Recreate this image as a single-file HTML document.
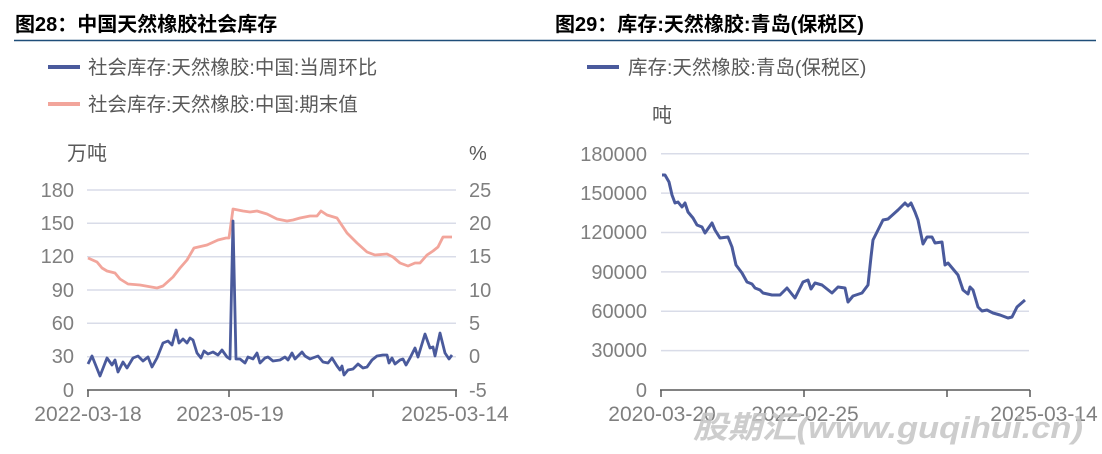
<!DOCTYPE html>
<html><head><meta charset="utf-8"><style>
html,body{margin:0;padding:0;background:#fff;}
svg{display:block;}
text{font-family:"Liberation Sans","Noto Sans CJK SC",sans-serif;}
</style></head><body>
<svg width="1102" height="454" viewBox="0 0 1102 454" xmlns="http://www.w3.org/2000/svg">
<rect width="1102" height="454" fill="#fff"/>
<text x="15" y="31" font-size="20" font-weight="bold" fill="#000">图28：中国天然橡胶社会库存</text>
<text x="555" y="31" font-size="20" font-weight="bold" fill="#000">图29：库存:天然橡胶:青岛(保税区)</text>
<line x1="14" y1="40.5" x2="1096" y2="40.5" stroke="#1f4e79" stroke-width="1.5"/>

<!-- left chart -->
<line x1="48" y1="67" x2="80" y2="67" stroke="#4a5a9c" stroke-width="4"/>
<text x="88" y="74" font-size="19.5" fill="#595959">社会库存:天然橡胶:中国:当周环比</text>
<line x1="48" y1="104" x2="80" y2="104" stroke="#f2a59b" stroke-width="4"/>
<text x="88" y="111" font-size="19.5" fill="#595959">社会库存:天然橡胶:中国:期末值</text>
<text x="67" y="160" font-size="20" fill="#595959">万吨</text>
<text x="469" y="160" font-size="20" fill="#595959">%</text>
<g stroke="#d9dce8" stroke-width="1.5">
<line x1="87" y1="190" x2="456" y2="190"/><line x1="87" y1="223.3" x2="456" y2="223.3"/>
<line x1="87" y1="256.7" x2="456" y2="256.7"/><line x1="87" y1="290" x2="456" y2="290"/>
<line x1="87" y1="323.3" x2="456" y2="323.3"/><line x1="87" y1="356.7" x2="456" y2="356.7"/>
</g>
<g font-size="20" fill="#7f7f7f" text-anchor="end">
<text x="74" y="197">180</text><text x="74" y="230">150</text><text x="74" y="263">120</text>
<text x="74" y="297">90</text><text x="74" y="330">60</text><text x="74" y="363">30</text><text x="74" y="397">0</text>
</g>
<g font-size="20" fill="#7f7f7f">
<text x="469" y="197">25</text><text x="469" y="230">20</text><text x="469" y="263">15</text>
<text x="469" y="297">10</text><text x="469" y="330">5</text><text x="469" y="363">0</text><text x="469" y="397">-5</text>
</g>
<g stroke="#595959" stroke-width="1.5">
<line x1="87" y1="390" x2="457" y2="390"/>
<line x1="88" y1="390" x2="88" y2="397"/><line x1="229" y1="390" x2="229" y2="397"/>
<line x1="373" y1="390" x2="373" y2="397"/><line x1="456" y1="390" x2="456" y2="397"/>
</g>
<g font-size="21" fill="#7f7f7f" text-anchor="middle">
<text x="88" y="421">2022-03-18</text><text x="230" y="421">2023-05-19</text><text x="455" y="421">2025-03-14</text>
</g>
<polyline fill="none" stroke="#f2a59b" stroke-width="2.8" stroke-linejoin="round" points="88,258 97,262 102,268 107,271 115,273 120,279 128,284 140,285 157,288 163,286 173,277 180,268 187,260 194,248 207,245 218,240 226,238 229,238 233,209 243,211 250,212 257,211 267,214 277,219 287,221 293,220 300,218 310,216 317,216 321,211 327,215 337,218 347,233 357,243 367,252 375,255 387,254 393,257 400,263 408,266 415,263 420,263 427,255 433,251 438,247 443,237 452,237"/>
<polyline fill="none" stroke="#4a5a9c" stroke-width="2.8" stroke-linejoin="round" points="88,364 92,356 100,376 107,358 112,365 115,360 118,372 123,362 127,368 133,358 138,356 143,361 148,357 152,367 157,358 163,343 168,341 172,345 176,330 179,343 183,339 187,343 190,338 193,340 197,353 201,358 204,351 208,354 213,352 218,355 222,350 227,357 230,359 233,221 236,359 240,359 245,363 248,357 253,359 257,353 260,363 265,358 268,357 273,361 280,360 285,357 288,360 292,353 295,359 302,352 305,356 310,359 318,356 323,362 328,363 332,358 337,366 340,370 342,366 344,375 348,370 353,369 358,364 363,368 367,367 372,360 377,356 383,355 387,355 389,363 392,358 395,364 400,360 403,359 406,365 410,358 415,348 418,357 425,334 430,348 433,347 435,356 440,333 445,353 449,359 452,355"/>

<!-- right chart -->
<line x1="587" y1="67" x2="619" y2="67" stroke="#4a5a9c" stroke-width="4"/>
<text x="628" y="74" font-size="19.5" fill="#595959">库存:天然橡胶:青岛(保税区)</text>
<text x="652" y="122" font-size="20" fill="#595959">吨</text>
<g stroke="#d9dce8" stroke-width="1.5">
<line x1="661" y1="153.7" x2="1029" y2="153.7"/><line x1="661" y1="193.1" x2="1029" y2="193.1"/>
<line x1="661" y1="232.5" x2="1029" y2="232.5"/><line x1="661" y1="271.9" x2="1029" y2="271.9"/>
<line x1="661" y1="311.2" x2="1029" y2="311.2"/><line x1="661" y1="350.6" x2="1029" y2="350.6"/>
</g>
<g font-size="20" fill="#7f7f7f" text-anchor="end">
<text x="647" y="161">180000</text><text x="647" y="200">150000</text><text x="647" y="239">120000</text>
<text x="647" y="279">90000</text><text x="647" y="318">60000</text><text x="647" y="357">30000</text><text x="647" y="397">0</text>
</g>
<g stroke="#595959" stroke-width="1.5">
<line x1="660" y1="390" x2="1030" y2="390"/>
<line x1="661" y1="390" x2="661" y2="397"/><line x1="804" y1="390" x2="804" y2="397"/>
<line x1="947" y1="390" x2="947" y2="397"/><line x1="1030" y1="390" x2="1030" y2="397"/>
</g>
<g font-size="21" fill="#7f7f7f" text-anchor="middle">
<text x="662" y="421">2020-03-20</text><text x="805" y="421">2022-02-25</text><text x="1044" y="421">2025-03-14</text>
</g>
<polyline fill="none" stroke="#4a5a9c" stroke-width="3" stroke-linejoin="round" points="662,175 665,175 669,182 672,195 675,203 678,202 682,207 685,203 688,212 693,218 697,225 702,227 705,233 712,223 715,230 720,238 728,237 732,247 736,265 742,273 747,282 752,284 755,288 760,290 763,293 772,295 780,295 787,288 795,298 803,282 808,280 811,289 815,283 822,285 832,293 838,287 845,288 848,302 853,296 862,293 868,285 871,257 873,240 883,220 888,219 898,210 905,203 908,206 911,203 915,212 918,220 923,244 927,237 932,237 935,243 942,242 945,265 948,263 953,269 958,275 963,290 968,294 970,287 973,290 978,307 982,311 987,310 993,313 1000,315 1008,318 1012,317 1017,307 1025,300"/>
<text x="693" y="438" font-size="31" font-weight="bold" font-style="italic" fill="#c4c4c4" fill-opacity="0.85" textLength="390" lengthAdjust="spacingAndGlyphs">股期汇(www.guqihui.cn)</text>
</svg>
</body></html>
